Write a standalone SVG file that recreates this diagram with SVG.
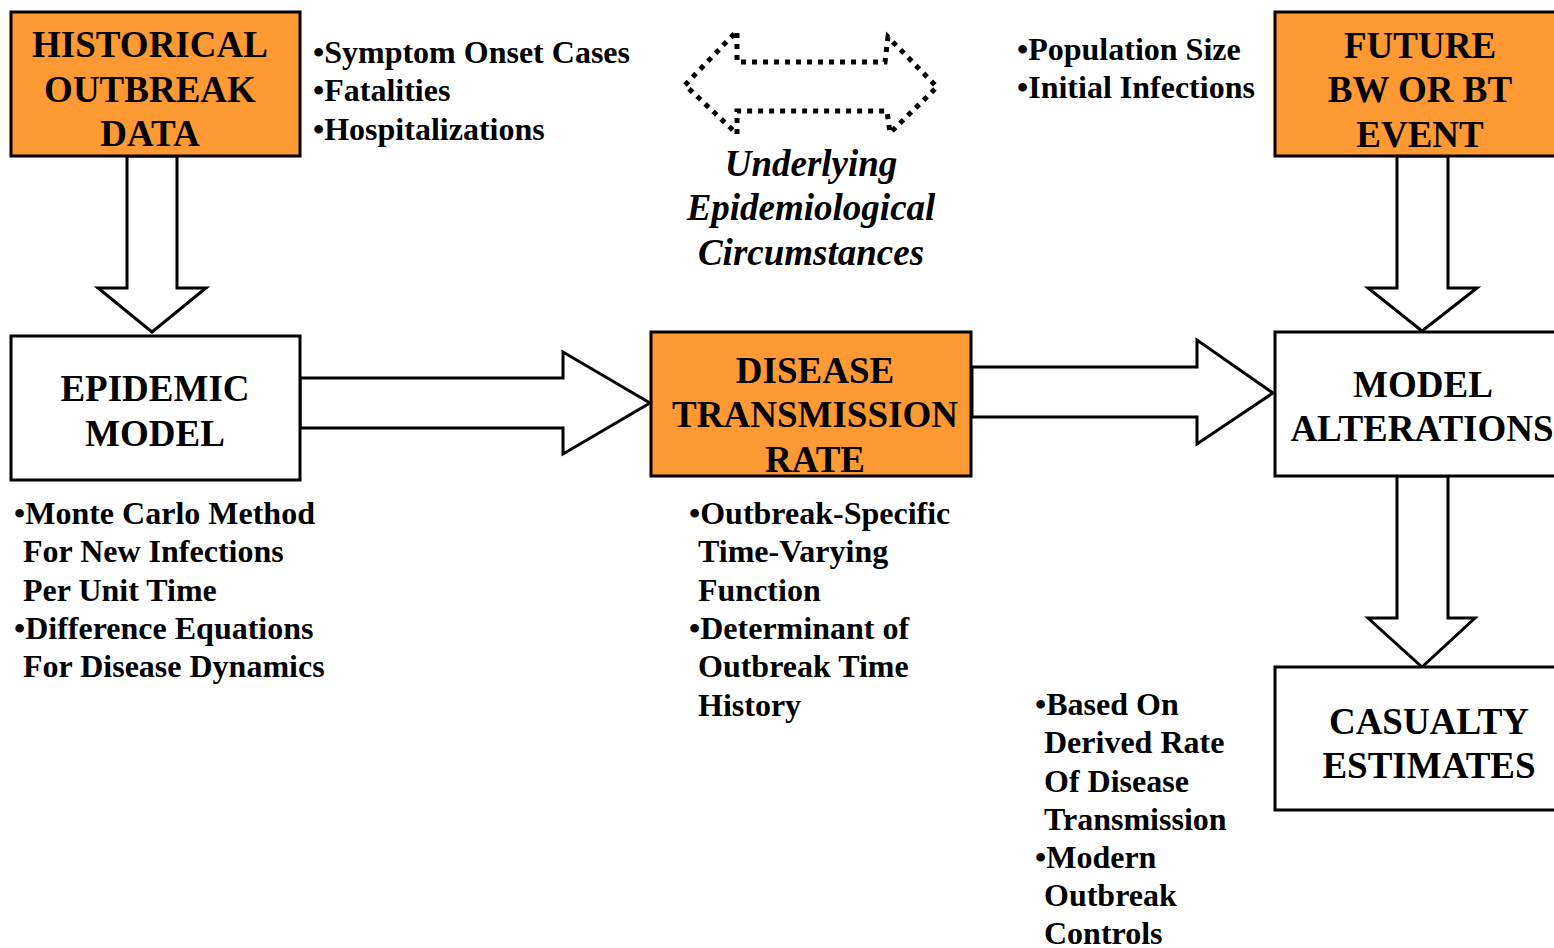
<svg xmlns="http://www.w3.org/2000/svg" width="1554" height="948" viewBox="0 0 1554 948">
<style>
  text { font-family: "Liberation Serif", "Times New Roman", serif; font-weight: bold; fill: #000; }
  .title { font-size: 37px; text-anchor: middle; }
  .bul { font-size: 32px; }
  .ital { font-size: 37px; font-style: italic; text-anchor: middle; }
  .orange { fill: #FF9933; stroke: #000; stroke-width: 3; }
  .white { fill: #fff; stroke: #000; stroke-width: 3; }
  .arrow { fill: #fff; stroke: #000; stroke-width: 3; stroke-linejoin: miter; }
  .dotted { fill: none; stroke: #000; stroke-width: 5; stroke-dasharray: 5 6; }
</style>
<rect width="1554" height="948" fill="#fff"/>

<g id="connectors">
  <polygon class="arrow" points="127,156 127,288 98,288 152,332 206,288 177,288 177,156"/>
  <polygon class="arrow" points="1397,156 1397,288 1368,288 1422,331 1477,288 1448,288 1448,156"/>
  <polygon class="arrow" points="1397,476 1397,618 1368,618 1422,667 1475,618 1448,618 1448,476"/>
  <polygon class="arrow" points="300,378 563,378 563,352 650,403 563,454 563,428 300,428"/>
  <polygon class="arrow" points="972,367 1197,367 1197,340 1273,393 1197,444 1197,417 972,417"/>
  <polygon class="dotted" points="685,85 737,31 737,62 885,62 888,37 937,87 890,133 887,111 737,111 737,134"/>
</g>

<g id="historical">
  <rect class="orange" x="11" y="12" width="289" height="144"/>
  <text class="title" x="150" y="57">HISTORICAL</text>
  <text class="title" x="150" y="102">OUTBREAK</text>
  <text class="title" x="150" y="146">DATA</text>
</g>

<g id="future">
  <rect class="orange" x="1275" y="12" width="290" height="144"/>
  <text class="title" x="1420" y="58">FUTURE</text>
  <text class="title" x="1420" y="102">BW OR BT</text>
  <text class="title" x="1420" y="147">EVENT</text>
</g>

<g id="epidemic">
  <rect class="white" x="11" y="336" width="289" height="144"/>
  <text class="title" x="155" y="401">EPIDEMIC</text>
  <text class="title" x="155" y="446">MODEL</text>
</g>

<g id="disease">
  <rect class="orange" x="651" y="332" width="320" height="144"/>
  <text class="title" x="815" y="383">DISEASE</text>
  <text class="title" x="815" y="427">TRANSMISSION</text>
  <text class="title" x="815" y="472">RATE</text>
</g>

<g id="alterations">
  <rect class="white" x="1275" y="332" width="290" height="144"/>
  <text class="title" x="1423" y="397">MODEL</text>
  <text class="title" x="1422" y="441">ALTERATIONS</text>
</g>

<g id="casualty">
  <rect class="white" x="1275" y="667" width="290" height="143"/>
  <text class="title" x="1429" y="734">CASUALTY</text>
  <text class="title" x="1429" y="778">ESTIMATES</text>
</g>

<g id="notes-data">
  <text class="bul" x="313" y="63">•Symptom Onset Cases</text>
  <text class="bul" x="313" y="101">•Fatalities</text>
  <text class="bul" x="313" y="140">•Hospitalizations</text>
</g>

<g id="notes-underlying">
  <text class="ital" x="811" y="176">Underlying</text>
  <text class="ital" x="811" y="220">Epidemiological</text>
  <text class="ital" x="811" y="265">Circumstances</text>
</g>

<g id="notes-event">
  <text class="bul" x="1017" y="60">•Population Size</text>
  <text class="bul" x="1017" y="98">•Initial Infections</text>
</g>

<g id="notes-model">
  <text class="bul" x="14" y="524">•Monte Carlo Method</text>
  <text class="bul" x="23" y="562">For New Infections</text>
  <text class="bul" x="23" y="601">Per Unit Time</text>
  <text class="bul" x="14" y="639">•Difference Equations</text>
  <text class="bul" x="23" y="677">For Disease Dynamics</text>
</g>

<g id="notes-rate">
  <text class="bul" x="689" y="524">•Outbreak-Specific</text>
  <text class="bul" x="698" y="562">Time-Varying</text>
  <text class="bul" x="698" y="601">Function</text>
  <text class="bul" x="689" y="639">•Determinant of</text>
  <text class="bul" x="698" y="677">Outbreak Time</text>
  <text class="bul" x="698" y="716">History</text>
</g>

<g id="notes-alterations">
  <text class="bul" x="1035" y="715">•Based On</text>
  <text class="bul" x="1044" y="753">Derived Rate</text>
  <text class="bul" x="1044" y="792">Of Disease</text>
  <text class="bul" x="1044" y="830">Transmission</text>
  <text class="bul" x="1035" y="868">•Modern</text>
  <text class="bul" x="1044" y="906">Outbreak</text>
  <text class="bul" x="1044" y="944">Controls</text>
</g>
</svg>
